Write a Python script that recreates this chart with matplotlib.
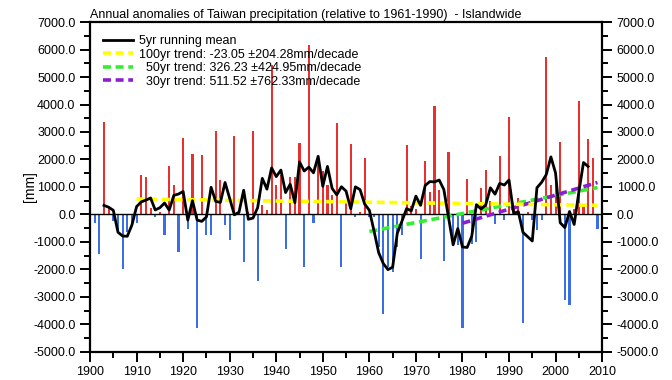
import numpy as np
import matplotlib.pyplot as plt
from matplotlib.ticker import MultipleLocator, FormatStrFormatter

plt.rcParams['font.family'] = ['Liberation Sans Narrow', 'Liberation Sans', 'DejaVu Sans']

# annual anomalies (mm), 1901-2009, relative to 1961-1990
years = np.arange(1901, 2010)
anom = np.array([
    -300, -1430, 3350, 280, -250, -640, -1990, -640, -400, -300,      # 1901-1910
    1420, 1350, 220, -90, 100, -760, 1750, 1080, -1370, 2770,         # 1911-1920
    -515, 2210, -4130, 2180, -760, -760, 3020, 1260, -390, -940,      # 1921-1930
    2860, 120, -1720, 100, 3040, -2420, 340, 160, 5440, 1080,         # 1931-1940
    1450, -1250, 1350, 1350, 2610, -1930, 6170, -300, 2060, 1570,     # 1941-1950
    1080, 710, 3310, -1930, 400, 2550, -90, 100, 2060, -100,          # 1951-1960
    -100, -1200, -3640, -1900, -2100, -1200, -750, 2520, 300, 200,    # 1961-1970
    -1620, 1940, 830, 3930, 900, -1680, 2280, -900, -1100, -4130,     # 1971-1980
    1290, -1070, -1000, 960, 1600, 500, -330, 2120, -200, 3560,       # 1981-1990
    200, 590, -3950, 100, -200, -580, -200, 5740, 1080, 1200,         # 1991-2000
    2650, -3130, -3310, 200, 4120, 300, 2760, 2060, -515,             # 2001-2009
])

# linear trends: period length, first year, slope (mm/decade), error, value at first year
trend_len = [100, 50, 30]
trend_start = [1910, 1960, 1980]
trend_slope = [-23.05, 326.23, 511.52]
trend_err = [204.28, 424.95, 762.33]
trend_y0 = [560, -620, -320]
trend_colors = ['#ffff00', '#33ee33', '#8a1fd0']
trend_end = 2009

# 5-year running mean
run_mean = np.convolve(anom, np.ones(5) / 5.0, mode='valid')
run_years = years[2:-2]

fig = plt.figure(figsize=(6.72, 3.8), dpi=100)
ax = fig.add_axes([0.134, 0.074, 0.762, 0.868])

colors = np.where(anom >= 0, '#e8302e', '#3a6ee6')
ax.bar(years, anom, width=0.45, color=colors, zorder=1)
ax.axhline(0, color='black', lw=1.0, zorder=2)

handles = []
line, = ax.plot(run_years, run_mean, color='black', lw=2.0, zorder=5,
                label='5yr running mean')
handles.append(line)
for i in range(len(trend_len)):
    n, y0, s, e = trend_len[i], trend_start[i], trend_slope[i], trend_err[i]
    yrs = np.array([y0, trend_end])
    vals = trend_y0[i] + s / 10.0 * (yrs - y0)
    lab = '%dyr trend: %.2f \u00b1%.2fmm/decade' % (n, s, e)
    if n < 100:
        lab = '  ' + lab
    ln, = ax.plot(yrs, vals, color=trend_colors[i], lw=2.6, ls=(0, (2.2, 1.3)),
                  zorder=4 if i == 0 else 3, label=lab)
    handles.append(ln)

ax.set_xlim(1900, 2010)
ax.set_ylim(-5000, 7000)
ax.xaxis.set_major_locator(MultipleLocator(10))
ax.xaxis.set_minor_locator(MultipleLocator(5))
ax.yaxis.set_major_locator(MultipleLocator(1000))
ax.yaxis.set_minor_locator(MultipleLocator(500))
ax.yaxis.set_major_formatter(FormatStrFormatter('%.1f'))

ax.tick_params(which='both', direction='out', width=1.4, labelsize=9,
               left=True, right=True, labelright=True, top=False)
ax.tick_params(which='major', length=7)
ax.tick_params(which='minor', length=4.5)
for sp in ax.spines.values():
    sp.set_linewidth(1.6)

ax.set_ylabel('[mm]', fontsize=10, labelpad=-3)
ax.set_title('Annual anomalies of Taiwan precipitation (relative to 1961-1990)  - Islandwide',
             loc='left', fontsize=9, pad=3)

ax.legend(handles=handles, loc='upper left', frameon=False, fontsize=9,
          handlelength=2.4, handletextpad=0.45, labelspacing=0.12,
          borderaxespad=0.75, borderpad=0.3)

fig.savefig('out.png', dpi=100)
